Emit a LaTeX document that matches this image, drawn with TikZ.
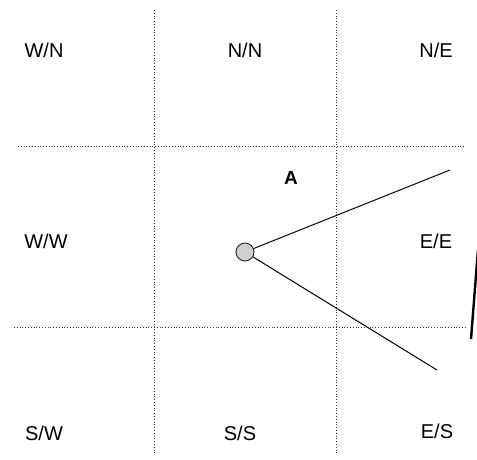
\documentclass[tikz,border=0pt]{standalone}
\usepackage{fontspec}
\setmainfont{Liberation Sans}
\begin{document}
\begin{tikzpicture}[x=1pt,y=-1pt,
  gridline/.style={line width=0.8pt,dotted,black!80},
  zonelabel/.style={font=\fontsize{20}{22}\selectfont,inner sep=0pt,anchor=base},
  ray/.style={line width=1pt,black},
  hub/.style={circle,draw=black!85,fill=black!18,line width=0.9pt,minimum size=18pt,inner sep=0pt}]
  \useasboundingbox (0,0) rectangle (477,459);
  % zone grid
  \draw[gridline] (154,10) -- (154,455);
  \draw[gridline] (336,10) -- (336,455);
  \draw[gridline] (18,146) -- (466,146);
  \draw[gridline] (14,327) -- (466,327);
  % zone names
  \node[zonelabel] (wn) at (44,57) {W/N};
  \node[zonelabel] (nn) at (245,57) {N/N};
  \node[zonelabel] (ne) at (436,57) {N/E};
  \node[zonelabel] (ww) at (46,248) {W/W};
  \node[zonelabel] (ee) at (436,248) {E/E};
  \node[zonelabel] (sw) at (44,440) {S/W};
  \node[zonelabel] (ss) at (240,440) {S/S};
  \node[zonelabel] (es) at (437,438) {E/S};
  \node[zonelabel,font=\fontsize{19}{21}\selectfont\bfseries] (a) at (291,184) {A};
  % observer and field of view
  \node[hub] (o) at (245,252) {};
  \coordinate (r1) at (450,170);
  \coordinate (r2) at (437,370);
  \draw[ray] (o) -- (r1);
  \draw[ray] (o) -- (r2);
  % wall segment
  \coordinate (w1) at (478,250);
  \coordinate (w2) at (471,339);
  \draw[line width=2.4pt] (w1) -- (w2);
\end{tikzpicture}
\end{document}
